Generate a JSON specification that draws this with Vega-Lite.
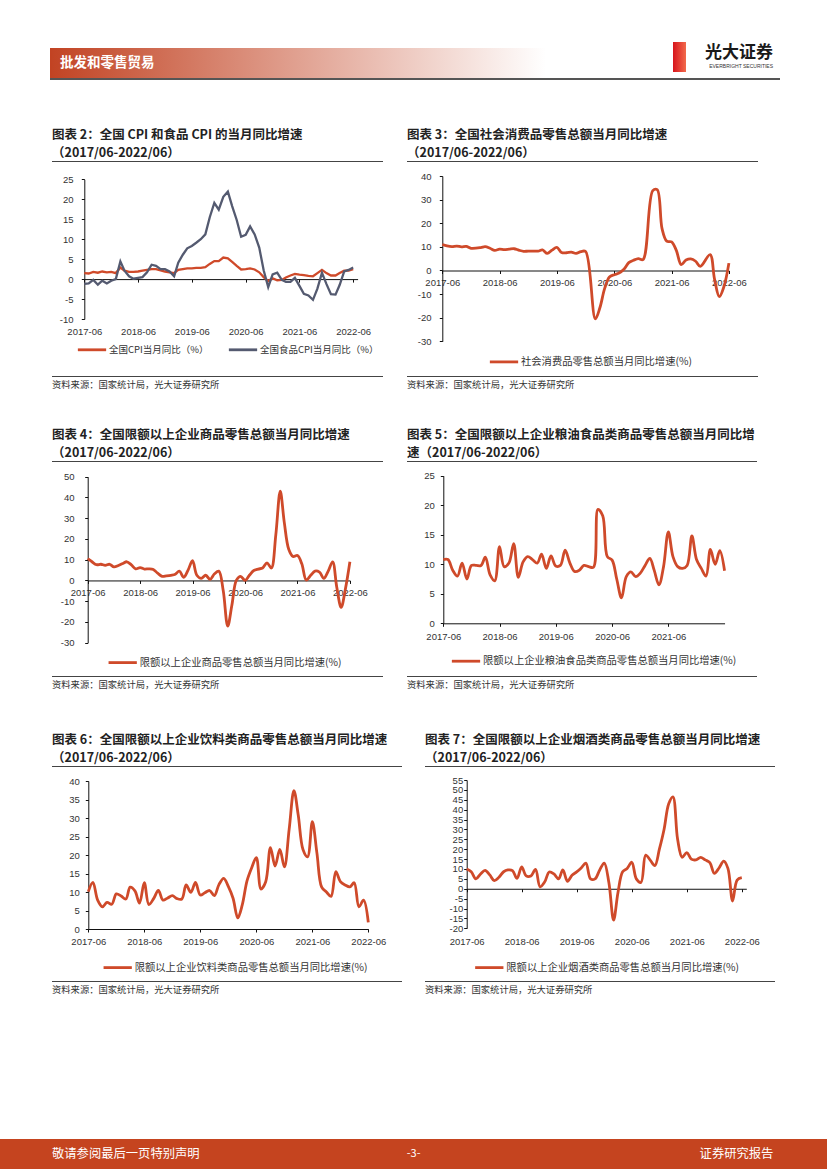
{
  "$schema": "https://vega.github.io/schema/vega-lite/v6.json",
  "background": "white",
  "padding": 0,
  "autosize": {"type": "pad"},
  "columns": 7,
  "align": "none",
  "bounds": "flush",
  "spacing": 0,
  "resolve": {"scale": {"x": "independent", "y": "independent", "color": "independent"}, "legend": {"color": "independent"}, "axis": {"x": "independent", "y": "independent"}},
  "concat": [
    {"width": 50, "height": 42, "data": {"values": []}, "mark": "point"},
    {"width": 2, "height": 42, "data": {"values": []}, "mark": "point"},
    {"width": 355, "height": 42, "data": {"values": []}, "mark": "point"},
    {"width": 18, "height": 42, "data": {"values": []}, "mark": "point"},
    {"width": 248, "height": 42, "data": {"values": []}, "mark": "point"},
    {"width": 13, "height": 42, "data": {"values": []}, "mark": "point"},
    {"width": 141, "height": 42, "data": {"values": []}, "mark": "point"},

    {"width": 50, "height": 6, "data": {"values": []}, "mark": "point"},
    {"width": 2, "height": 6, "data": {"values": []}, "mark": "point"},
    {"width": 355, "height": 6, "data": {"values": []}, "mark": "point"},
    {"width": 18, "height": 6, "data": {"values": []}, "mark": "point"},
    {"width": 248, "height": 6, "data": {"values": []}, "mark": "point"},
    {"width": 13, "height": 6, "data": {"values": [{}]}, "mark": {"type": "rect", "color": {"gradient": "linear", "x1": 0, "y1": 0, "x2": 1, "y2": 0, "stops": [{"offset": 0, "color": "#d7141c"}, {"offset": 1, "color": "#f26a4c"}]}}},
    {"width": 141, "height": 6, "data": {"values": []}, "mark": "point"},

    {"width": 50, "height": 30, "data": {"values": []}, "mark": "point"},
    {"width": 2, "height": 30, "data": {"values": [{}]}, "mark": {"type": "rect", "color": "#c24323"}},
    {
      "width": 355, "height": 30,
      "data": {"values": [{}]},
      "layer": [
        {"mark": {"type": "rect", "color": {"gradient": "linear", "x1": 0, "y1": 0, "x2": 1, "y2": 0, "stops": [{"offset": 0, "color": "#c24424"}, {"offset": 1, "color": "#eecac1"}]}}},
        {"mark": {"type": "text", "text": "批发和零售贸易", "color": "white", "font": "Noto Sans CJK SC", "fontWeight": "bold", "fontSize": 13.5, "align": "left", "dx": -169.5}}
      ]
    },
    {"width": 18, "height": 30, "data": {"values": [{}]}, "mark": {"type": "rect", "color": {"gradient": "linear", "x1": 0, "y1": 0, "x2": 1, "y2": 0, "stops": [{"offset": 0, "color": "#eecac1"}, {"offset": 1, "color": "#f0d1c9"}]}}},
    {"width": 121, "height": 30, "data": {"values": [{}]}, "mark": {"type": "rect", "color": {"gradient": "linear", "x1": 0, "y1": 0, "x2": 1, "y2": 0, "stops": [{"offset": 0, "color": "#f0d1c9"}, {"offset": 1, "color": "#ffffff"}]}}},
    {"width": 13, "height": 24, "data": {"values": [{}]}, "mark": {"type": "rect", "color": {"gradient": "linear", "x1": 0, "y1": 0, "x2": 1, "y2": 0, "stops": [{"offset": 0, "color": "#d7141c"}, {"offset": 1, "color": "#f26a4c"}]}}},
    {"width": 141, "height": 30, "data": {"values": []}, "mark": "point"},

    {"width": 50, "height": 2, "data": {"values": []}, "mark": "point"},
    {"width": 2, "height": 2, "view": {"fill": "#555"}, "data": {"values": []}, "mark": "point"},
    {"width": 355, "height": 2, "view": {"fill": "#555"}, "data": {"values": []}, "mark": "point"},
    {"width": 18, "height": 2, "view": {"fill": "#555"}, "data": {"values": []}, "mark": "point"},
    {"width": 248, "height": 2, "view": {"fill": "#555"}, "data": {"values": []}, "mark": "point"},
    {"width": 13, "height": 2, "view": {"fill": "#555"}, "data": {"values": []}, "mark": "point"},
    {"width": 94, "height": 2, "view": {"fill": "#555"}, "data": {"values": []}, "mark": "point",
     "title": {"text": "光大证券", "subtitle": "EVERBRIGHT SECURITIES", "anchor": "end", "orient": "top", "fontSize": 17, "fontWeight": "bold", "color": "#1a1a1a", "subtitleFont": "Liberation Sans", "subtitleFontSize": 5, "subtitleColor": "#333", "subtitlePadding": 2, "offset": 8, "dx": -7}},

    {"width": 50, "height": 81, "data": {"values": []}, "mark": "point"},
    {"width": 2, "height": 81, "data": {"values": []}, "mark": "point"},
    {"width": 355, "height": 81, "data": {"values": []}, "mark": "point"},
    {"width": 18, "height": 81, "data": {"values": []}, "mark": "point"},
    {"width": 248, "height": 81, "data": {"values": []}, "mark": "point"},
    {"width": 13, "height": 81, "data": {"values": []}, "mark": "point"},
    {"width": 141, "height": 81, "data": {"values": []}, "mark": "point"},

    {"width": 50, "height": 1, "data": {"values": []}, "mark": "point"},
    {"width": 2, "height": 1, "data": {"values": []}, "mark": "point"},
    {"width": 331, "height": 1, "view": {"fill": "#444"}, "data": {"values": []}, "mark": "point",
     "title": {"text": ["图表 2：全国 CPI 和食品 CPI 的当月同比增速", "（2017/06-2022/06）"]}},
    {"width": 18, "height": 1, "view": {"fill": "#444"}, "data": {"values": []}, "mark": "point",
     "title": {"text": ["图表 3：全国社会消费品零售总额当月同比增速", "（2017/06-2022/06）"]}},
    {"width": 248, "height": 1, "view": {"fill": "#444"}, "data": {"values": []}, "mark": "point"},
    {"width": 13, "height": 1, "view": {"fill": "#444"}, "data": {"values": []}, "mark": "point"},
    {"width": 72, "height": 1, "view": {"fill": "#444"}, "data": {"values": []}, "mark": "point"},

    {"width": 50, "height": 214, "data": {"values": []}, "mark": "point"},
    {"width": 2, "height": 214, "data": {"values": []}, "mark": "point"},
    {
      "width": 331, "height": 214,
      "data": {"values": [
        {"m":"2017-06","cpi":1.5,"food":-1.2},{"m":"2017-07","cpi":1.4,"food":-1.1},{"m":"2017-08","cpi":1.8,"food":-0.2},{"m":"2017-09","cpi":1.6,"food":-1.4},{"m":"2017-10","cpi":1.9,"food":-0.4},{"m":"2017-11","cpi":1.7,"food":-1.1},{"m":"2017-12","cpi":1.8,"food":-0.4},
        {"m":"2018-01","cpi":1.5,"food":0.0},{"m":"2018-02","cpi":2.9,"food":4.4},{"m":"2018-03","cpi":2.1,"food":2.1},{"m":"2018-04","cpi":1.8,"food":0.7},{"m":"2018-05","cpi":1.8,"food":0.1},{"m":"2018-06","cpi":1.9,"food":0.3},{"m":"2018-07","cpi":2.1,"food":0.5},{"m":"2018-08","cpi":2.3,"food":1.7},{"m":"2018-09","cpi":2.5,"food":3.6},{"m":"2018-10","cpi":2.5,"food":3.3},{"m":"2018-11","cpi":2.2,"food":2.5},{"m":"2018-12","cpi":1.9,"food":2.5},
        {"m":"2019-01","cpi":1.7,"food":1.9},{"m":"2019-02","cpi":1.5,"food":0.7},{"m":"2019-03","cpi":2.3,"food":4.1},{"m":"2019-04","cpi":2.5,"food":6.1},{"m":"2019-05","cpi":2.7,"food":7.7},{"m":"2019-06","cpi":2.7,"food":8.3},{"m":"2019-07","cpi":2.8,"food":9.1},{"m":"2019-08","cpi":2.8,"food":10.0},{"m":"2019-09","cpi":3.0,"food":11.2},{"m":"2019-10","cpi":3.8,"food":15.5},{"m":"2019-11","cpi":4.5,"food":19.1},{"m":"2019-12","cpi":4.5,"food":17.4},
        {"m":"2020-01","cpi":5.4,"food":20.6},{"m":"2020-02","cpi":5.2,"food":21.9},{"m":"2020-03","cpi":4.3,"food":18.3},{"m":"2020-04","cpi":3.3,"food":14.8},{"m":"2020-05","cpi":2.4,"food":10.6},{"m":"2020-06","cpi":2.5,"food":11.1},{"m":"2020-07","cpi":2.7,"food":13.2},{"m":"2020-08","cpi":2.4,"food":11.2},{"m":"2020-09","cpi":1.7,"food":7.9},{"m":"2020-10","cpi":0.5,"food":2.2},{"m":"2020-11","cpi":-0.5,"food":-2.0},{"m":"2020-12","cpi":0.2,"food":1.2},
        {"m":"2021-01","cpi":-0.3,"food":1.6},{"m":"2021-02","cpi":-0.2,"food":-0.2},{"m":"2021-03","cpi":0.4,"food":-0.7},{"m":"2021-04","cpi":0.9,"food":-0.7},{"m":"2021-05","cpi":1.3,"food":0.3},{"m":"2021-06","cpi":1.1,"food":-1.7},{"m":"2021-07","cpi":1.0,"food":-3.7},{"m":"2021-08","cpi":0.8,"food":-4.1},{"m":"2021-09","cpi":0.7,"food":-5.2},{"m":"2021-10","cpi":1.5,"food":-2.4},{"m":"2021-11","cpi":2.3,"food":1.6},{"m":"2021-12","cpi":1.5,"food":-1.2},
        {"m":"2022-01","cpi":0.9,"food":-3.8},{"m":"2022-02","cpi":0.9,"food":-3.9},{"m":"2022-03","cpi":1.5,"food":-1.5},{"m":"2022-04","cpi":2.1,"food":1.9},{"m":"2022-05","cpi":2.1,"food":2.3},{"m":"2022-06","cpi":2.5,"food":2.9}
      ], "format": {"parse": {"m": "date:'%Y-%m'"}}},
      "transform": [{"fold": ["cpi", "food"], "as": ["s", "v"]}],
      "mark": {"type": "line", "interpolate": "linear", "strokeWidth": 2.3},
      "encoding": {
        "x": {"field": "m", "type": "temporal",
          "scale": {"domain": [{"year": 2017, "month": 6, "date": 1}, {"year": 2022, "month": 7, "date": 1}], "range": [32.3, 305.6], "nice": false},
          "axis": {"title": null, "format": "%Y-%m", "values": [{"year": 2017, "month": 6}, {"year": 2018, "month": 6}, {"year": 2019, "month": 6}, {"year": 2020, "month": 6}, {"year": 2021, "month": 6}, {"year": 2022, "month": 6}], "offset": -96.9, "labelPadding": 44.6}},
        "y": {"field": "v", "type": "quantitative",
          "scale": {"domain": [-10, 25], "range": [157, 17.3], "nice": false, "zero": false},
          "axis": {"title": null, "values": [-10, -5, 0, 5, 10, 15, 20, 25], "offset": -32.3, "labelPadding": 8.3, "labelExpr": "'' + datum.value"}},
        "color": {"field": "s", "type": "nominal",
          "scale": {"domain": ["cpi", "food"], "range": ["#cf4a2a", "#545a70"]},
          "legend": {"title": null, "legendX": 24, "legendY": 171.6, "labelFontSize": 9.5, "columnPadding": 14, "labelExpr": "datum.value == 'cpi' ? '全国CPI当月同比（%）' : '全国食品CPI当月同比（%）'"}}
      }
    },
    {
      "width": 18, "height": 214,
      "data": {"values": [
        {"m":"2017-06","v":11.0},{"m":"2017-07","v":10.4},{"m":"2017-08","v":10.1},{"m":"2017-09","v":10.3},{"m":"2017-10","v":10.0},{"m":"2017-11","v":10.2},{"m":"2017-12","v":9.4},
        {"m":"2018-02","v":9.7},{"m":"2018-03","v":10.1},{"m":"2018-04","v":9.4},{"m":"2018-05","v":8.5},{"m":"2018-06","v":9.0},{"m":"2018-07","v":8.8},{"m":"2018-08","v":9.0},{"m":"2018-09","v":9.2},{"m":"2018-10","v":8.6},{"m":"2018-11","v":8.1},{"m":"2018-12","v":8.2},
        {"m":"2019-02","v":8.2},{"m":"2019-03","v":8.7},{"m":"2019-04","v":7.2},{"m":"2019-05","v":8.6},{"m":"2019-06","v":9.8},{"m":"2019-07","v":7.6},{"m":"2019-08","v":7.5},{"m":"2019-09","v":7.8},{"m":"2019-10","v":7.2},{"m":"2019-11","v":8.0},{"m":"2019-12","v":8.0},
        {"m":"2020-02","v":-20.5},{"m":"2020-03","v":-15.8},{"m":"2020-04","v":-7.5},{"m":"2020-05","v":-2.8},{"m":"2020-06","v":-1.8},{"m":"2020-07","v":-1.1},{"m":"2020-08","v":0.5},{"m":"2020-09","v":3.3},{"m":"2020-10","v":4.3},{"m":"2020-11","v":5.0},{"m":"2020-12","v":4.6},
        {"m":"2021-02","v":33.8},{"m":"2021-03","v":34.2},{"m":"2021-04","v":17.7},{"m":"2021-05","v":12.4},{"m":"2021-06","v":12.1},{"m":"2021-07","v":8.5},{"m":"2021-08","v":2.5},{"m":"2021-09","v":4.4},{"m":"2021-10","v":4.9},{"m":"2021-11","v":3.9},{"m":"2021-12","v":1.7},
        {"m":"2022-02","v":6.7},{"m":"2022-03","v":-3.5},{"m":"2022-04","v":-11.1},{"m":"2022-05","v":-6.7},{"m":"2022-06","v":3.1}
      ], "format": {"parse": {"m": "date:'%Y-%m'"}}},
      "mark": {"type": "line", "color": "#cf4a2a"},
      "encoding": {
        "x": {"field": "m", "type": "temporal",
          "scale": {"domain": [{"year": 2017, "month": 6, "date": 1}, {"year": 2022, "month": 6, "date": 1}], "range": [35.3, 321.9], "nice": false},
          "axis": {"title": null, "format": "%Y-%m", "values": [{"year": 2017, "month": 6}, {"year": 2018, "month": 6}, {"year": 2019, "month": 6}, {"year": 2020, "month": 6}, {"year": 2021, "month": 6}, {"year": 2022, "month": 6}], "offset": -105.5, "labelPadding": 4.2}},
        "y": {"field": "v", "type": "quantitative",
          "scale": {"domain": [-30, 40], "range": [179.3, 14], "nice": false, "zero": false},
          "axis": {"title": null, "values": [-30, -20, -10, 0, 10, 20, 30, 40], "offset": -35.3, "labelPadding": 8.3, "labelExpr": "'' + datum.value"}},
        "color": {"datum": "社会消费品零售总额当月同比增速(%)", "scale": {"range": ["#cf4a2a"]},
          "legend": {"title": null, "legendX": 81, "legendY": 183.9}}
      }
    },
    {"width": 248, "height": 214, "data": {"values": []}, "mark": "point"},
    {"width": 13, "height": 214, "data": {"values": []}, "mark": "point"},
    {"width": 141, "height": 214, "data": {"values": []}, "mark": "point"},

    {"width": 50, "height": 1, "data": {"values": []}, "mark": "point"},
    {"width": 2, "height": 1, "data": {"values": []}, "mark": "point"},
    {"width": 331, "height": 1, "view": {"fill": "#444"}, "data": {"values": []}, "mark": "point",
     "title": {"text": "资料来源：国家统计局，光大证券研究所", "orient": "bottom", "baseline": "top", "fontSize": 9.3, "fontWeight": "normal", "color": "#333", "offset": 4}},
    {"width": 18, "height": 1, "view": {"fill": "#444"}, "data": {"values": []}, "mark": "point",
     "title": {"text": "资料来源：国家统计局，光大证券研究所", "orient": "bottom", "baseline": "top", "fontSize": 9.3, "fontWeight": "normal", "color": "#333", "offset": 4}},
    {"width": 248, "height": 1, "view": {"fill": "#444"}, "data": {"values": []}, "mark": "point"},
    {"width": 13, "height": 1, "view": {"fill": "#444"}, "data": {"values": []}, "mark": "point"},
    {"width": 72, "height": 1, "view": {"fill": "#444"}, "data": {"values": []}, "mark": "point"},

    {"width": 50, "height": 84, "data": {"values": []}, "mark": "point"},
    {"width": 2, "height": 84, "data": {"values": []}, "mark": "point"},
    {"width": 355, "height": 84, "data": {"values": []}, "mark": "point"},
    {"width": 18, "height": 84, "data": {"values": []}, "mark": "point"},
    {"width": 248, "height": 84, "data": {"values": []}, "mark": "point"},
    {"width": 13, "height": 84, "data": {"values": []}, "mark": "point"},
    {"width": 141, "height": 84, "data": {"values": []}, "mark": "point"},

    {"width": 50, "height": 1, "data": {"values": []}, "mark": "point"},
    {"width": 2, "height": 1, "data": {"values": []}, "mark": "point"},
    {"width": 331, "height": 1, "view": {"fill": "#444"}, "data": {"values": []}, "mark": "point",
     "title": {"text": ["图表 4：全国限额以上企业商品零售总额当月同比增速", "（2017/06-2022/06）"]}},
    {"width": 18, "height": 1, "view": {"fill": "#444"}, "data": {"values": []}, "mark": "point",
     "title": {"text": ["图表 5：全国限额以上企业粮油食品类商品零售总额当月同比增", "速（2017/06-2022/06）"]}},
    {"width": 248, "height": 1, "view": {"fill": "#444"}, "data": {"values": []}, "mark": "point"},
    {"width": 13, "height": 1, "view": {"fill": "#444"}, "data": {"values": []}, "mark": "point"},
    {"width": 71, "height": 1, "view": {"fill": "#444"}, "data": {"values": []}, "mark": "point"},

    {"width": 50, "height": 214, "data": {"values": []}, "mark": "point"},
    {"width": 2, "height": 214, "data": {"values": []}, "mark": "point"},
    {
      "width": 331, "height": 214,
      "data": {"values": [
        {"m":"2017-06","v":10.5},{"m":"2017-07","v":9.0},{"m":"2017-08","v":7.6},{"m":"2017-09","v":7.8},{"m":"2017-10","v":7.3},{"m":"2017-11","v":7.8},{"m":"2017-12","v":6.5},
        {"m":"2018-01","v":7.2},{"m":"2018-02","v":8.2},{"m":"2018-03","v":9.0},{"m":"2018-04","v":7.5},{"m":"2018-05","v":5.6},{"m":"2018-06","v":6.2},{"m":"2018-07","v":5.5},{"m":"2018-08","v":5.6},{"m":"2018-09","v":5.3},{"m":"2018-10","v":3.5},{"m":"2018-11","v":2.0},{"m":"2018-12","v":2.2},
        {"m":"2019-01","v":2.5},{"m":"2019-02","v":3.0},{"m":"2019-03","v":4.5},{"m":"2019-04","v":1.5},{"m":"2019-05","v":5.0},{"m":"2019-06","v":9.5},{"m":"2019-07","v":2.5},{"m":"2019-08","v":1.0},{"m":"2019-09","v":2.5},{"m":"2019-10","v":0.5},{"m":"2019-11","v":3.2},{"m":"2019-12","v":4.5},
        {"m":"2020-01","v":-5.0},{"m":"2020-02","v":-22.0},{"m":"2020-03","v":-12.0},{"m":"2020-04","v":0.0},{"m":"2020-05","v":2.0},{"m":"2020-06","v":0.0},{"m":"2020-07","v":2.5},{"m":"2020-08","v":4.8},{"m":"2020-09","v":5.5},{"m":"2020-10","v":6.0},{"m":"2020-11","v":8.5},{"m":"2020-12","v":6.0},
        {"m":"2021-01","v":22.0},{"m":"2021-02","v":43.0},{"m":"2021-03","v":28.0},{"m":"2021-04","v":15.0},{"m":"2021-05","v":11.5},{"m":"2021-06","v":12.0},{"m":"2021-07","v":8.0},{"m":"2021-08","v":0.2},{"m":"2021-09","v":2.5},{"m":"2021-10","v":4.5},{"m":"2021-11","v":4.0},{"m":"2021-12","v":1.0},
        {"m":"2022-01","v":4.5},{"m":"2022-02","v":9.0},{"m":"2022-03","v":-3.0},{"m":"2022-04","v":-13.0},{"m":"2022-05","v":-4.0},{"m":"2022-06","v":9.0}
      ], "format": {"parse": {"m": "date:'%Y-%m'"}}},
      "mark": {"type": "line", "color": "#cf4a2a"},
      "encoding": {
        "x": {"field": "m", "type": "temporal",
          "scale": {"domain": [{"year": 2017, "month": 6, "date": 1}, {"year": 2022, "month": 6, "date": 1}], "range": [35.7, 297.9], "nice": false},
          "axis": {"title": null, "format": "%Y-%m", "values": [{"year": 2017, "month": 6}, {"year": 2018, "month": 6}, {"year": 2019, "month": 6}, {"year": 2020, "month": 6}, {"year": 2021, "month": 6}, {"year": 2022, "month": 6}], "offset": -95.55, "labelPadding": 3.85}},
        "y": {"field": "v", "type": "quantitative",
          "scale": {"domain": [-30, 50], "range": [180.7, 14.7], "nice": false, "zero": false},
          "axis": {"title": null, "values": [-30, -20, -10, 0, 10, 20, 30, 40, 50], "offset": -35.7, "labelPadding": 10.7, "labelExpr": "'' + datum.value"}},
        "color": {"datum": "限额以上企业商品零售总额当月同比增速(%)", "scale": {"range": ["#cf4a2a"]},
          "legend": {"title": null, "legendX": 54.7, "legendY": 184.6}}
      }
    },
    {
      "width": 18, "height": 214,
      "data": {"values": [
        {"m":"2017-06","v":10.8},{"m":"2017-07","v":10.8},{"m":"2017-08","v":9.0},{"m":"2017-09","v":8.0},{"m":"2017-10","v":10.2},{"m":"2017-11","v":7.5},{"m":"2017-12","v":9.8},
        {"m":"2018-01","v":9.8},{"m":"2018-02","v":9.8},{"m":"2018-03","v":11.2},{"m":"2018-04","v":8.2},{"m":"2018-05","v":7.2},{"m":"2018-06","v":13.0},{"m":"2018-07","v":9.6},{"m":"2018-08","v":10.2},{"m":"2018-09","v":13.5},{"m":"2018-10","v":7.8},{"m":"2018-11","v":10.4},{"m":"2018-12","v":11.3},
        {"m":"2019-01","v":10.8},{"m":"2019-02","v":10.2},{"m":"2019-03","v":11.7},{"m":"2019-04","v":9.3},{"m":"2019-05","v":11.4},{"m":"2019-06","v":9.7},{"m":"2019-07","v":9.8},{"m":"2019-08","v":12.4},{"m":"2019-09","v":10.2},{"m":"2019-10","v":8.8},{"m":"2019-11","v":9.0},{"m":"2019-12","v":9.8},
        {"m":"2020-01","v":9.6},{"m":"2020-02","v":9.5},{"m":"2020-03","v":19.3},{"m":"2020-04","v":18.2},{"m":"2020-05","v":11.3},{"m":"2020-06","v":10.7},{"m":"2020-07","v":7.5},{"m":"2020-08","v":4.3},{"m":"2020-09","v":7.9},{"m":"2020-10","v":8.7},{"m":"2020-11","v":7.9},{"m":"2020-12","v":8.5},
        {"m":"2021-01","v":9.8},{"m":"2021-02","v":11.0},{"m":"2021-03","v":9.0},{"m":"2021-04","v":6.5},{"m":"2021-05","v":9.6},{"m":"2021-06","v":15.5},{"m":"2021-07","v":11.3},{"m":"2021-08","v":9.6},{"m":"2021-09","v":9.3},{"m":"2021-10","v":9.8},{"m":"2021-11","v":14.8},{"m":"2021-12","v":10.8},
        {"m":"2022-01","v":9.3},{"m":"2022-02","v":8.0},{"m":"2022-03","v":12.5},{"m":"2022-04","v":10.0},{"m":"2022-05","v":12.3},{"m":"2022-06","v":8.9}
      ], "format": {"parse": {"m": "date:'%Y-%m'"}}},
      "mark": {"type": "line", "color": "#cf4a2a"},
      "encoding": {
        "x": {"field": "m", "type": "temporal",
          "scale": {"domain": [{"year": 2017, "month": 6, "date": 1}, {"year": 2022, "month": 6, "date": 1}], "range": [36.3, 317.55], "nice": false},
          "axis": {"title": null, "format": "%Y-%m", "values": [{"year": 2017, "month": 6}, {"year": 2018, "month": 6}, {"year": 2019, "month": 6}, {"year": 2020, "month": 6}, {"year": 2021, "month": 6}], "offset": -52.7, "labelPadding": 4.7}},
        "y": {"field": "v", "type": "quantitative",
          "scale": {"domain": [0, 25], "range": [161.3, 13.7], "nice": false, "zero": false},
          "axis": {"title": null, "values": [0, 5, 10, 15, 20, 25], "offset": -36.3, "labelPadding": 6, "labelExpr": "'' + datum.value"}},
        "color": {"datum": "限额以上企业粮油食品类商品零售总额当月同比增速(%)", "scale": {"range": ["#cf4a2a"]},
          "legend": {"title": null, "legendX": 43, "legendY": 183.2}}
      }
    },
    {"width": 248, "height": 214, "data": {"values": []}, "mark": "point"},
    {"width": 13, "height": 214, "data": {"values": []}, "mark": "point"},
    {"width": 141, "height": 214, "data": {"values": []}, "mark": "point"},

    {"width": 50, "height": 1, "data": {"values": []}, "mark": "point"},
    {"width": 2, "height": 1, "data": {"values": []}, "mark": "point"},
    {"width": 331, "height": 1, "view": {"fill": "#444"}, "data": {"values": []}, "mark": "point",
     "title": {"text": "资料来源：国家统计局，光大证券研究所", "orient": "bottom", "baseline": "top", "fontSize": 9.3, "fontWeight": "normal", "color": "#333", "offset": 4}},
    {"width": 18, "height": 1, "view": {"fill": "#444"}, "data": {"values": []}, "mark": "point",
     "title": {"text": "资料来源：国家统计局，光大证券研究所", "orient": "bottom", "baseline": "top", "fontSize": 9.3, "fontWeight": "normal", "color": "#333", "offset": 4}},
    {"width": 248, "height": 1, "view": {"fill": "#444"}, "data": {"values": []}, "mark": "point"},
    {"width": 13, "height": 1, "view": {"fill": "#444"}, "data": {"values": []}, "mark": "point"},
    {"width": 71, "height": 1, "view": {"fill": "#444"}, "data": {"values": []}, "mark": "point"},

    {"width": 50, "height": 89, "data": {"values": []}, "mark": "point"},
    {"width": 2, "height": 89, "data": {"values": []}, "mark": "point"},
    {"width": 355, "height": 89, "data": {"values": []}, "mark": "point"},
    {"width": 18, "height": 89, "data": {"values": []}, "mark": "point"},
    {"width": 248, "height": 89, "data": {"values": []}, "mark": "point"},
    {"width": 13, "height": 89, "data": {"values": []}, "mark": "point"},
    {"width": 141, "height": 89, "data": {"values": []}, "mark": "point"},

    {"width": 50, "height": 1, "data": {"values": []}, "mark": "point"},
    {"width": 2, "height": 1, "data": {"values": []}, "mark": "point"},
    {"width": 350, "height": 1, "view": {"fill": "#444"}, "data": {"values": []}, "mark": "point",
     "title": {"text": ["图表 6：全国限额以上企业饮料类商品零售总额当月同比增速", "（2017/06-2022/06）"]}},
    {"width": 18, "height": 1, "data": {"values": []}, "mark": "point"},
    {"width": 248, "height": 1, "view": {"fill": "#444"}, "data": {"values": []}, "mark": "point",
     "title": {"text": ["图表 7：全国限额以上企业烟酒类商品零售总额当月同比增速", "（2017/06-2022/06）"]}},
    {"width": 13, "height": 1, "view": {"fill": "#444"}, "data": {"values": []}, "mark": "point"},
    {"width": 89, "height": 1, "view": {"fill": "#444"}, "data": {"values": []}, "mark": "point"},

    {"width": 50, "height": 214, "data": {"values": []}, "mark": "point"},
    {"width": 2, "height": 214, "data": {"values": []}, "mark": "point"},
    {
      "width": 350, "height": 214,
      "data": {"values": [
        {"m":"2017-06","v":10.1},{"m":"2017-07","v":12.6},{"m":"2017-08","v":7.8},{"m":"2017-09","v":6.0},{"m":"2017-10","v":7.2},{"m":"2017-11","v":6.7},{"m":"2017-12","v":9.5},
        {"m":"2018-01","v":8.9},{"m":"2018-02","v":8.1},{"m":"2018-03","v":11.3},{"m":"2018-04","v":10.3},{"m":"2018-05","v":7.0},{"m":"2018-06","v":12.5},{"m":"2018-07","v":6.6},{"m":"2018-08","v":8.2},{"m":"2018-09","v":10.4},{"m":"2018-10","v":7.8},{"m":"2018-11","v":8.4},{"m":"2018-12","v":9.0},
        {"m":"2019-01","v":8.2},{"m":"2019-02","v":8.1},{"m":"2019-03","v":11.9},{"m":"2019-04","v":9.9},{"m":"2019-05","v":12.6},{"m":"2019-06","v":9.2},{"m":"2019-07","v":9.8},{"m":"2019-08","v":10.4},{"m":"2019-09","v":9.0},{"m":"2019-10","v":12.0},{"m":"2019-11","v":13.7},{"m":"2019-12","v":11.5},
        {"m":"2020-01","v":8.3},{"m":"2020-02","v":3.0},{"m":"2020-03","v":6.5},{"m":"2020-04","v":13.0},{"m":"2020-05","v":16.5},{"m":"2020-06","v":19.3},{"m":"2020-07","v":10.8},{"m":"2020-08","v":12.8},{"m":"2020-09","v":22.0},{"m":"2020-10","v":17.0},{"m":"2020-11","v":21.5},{"m":"2020-12","v":16.8},
        {"m":"2021-01","v":27.0},{"m":"2021-02","v":37.4},{"m":"2021-03","v":30.8},{"m":"2021-04","v":21.5},{"m":"2021-05","v":19.5},{"m":"2021-06","v":29.0},{"m":"2021-07","v":20.5},{"m":"2021-08","v":11.3},{"m":"2021-09","v":10.0},{"m":"2021-10","v":8.8},{"m":"2021-11","v":15.5},{"m":"2021-12","v":12.8},
        {"m":"2022-01","v":11.9},{"m":"2022-02","v":11.4},{"m":"2022-03","v":12.5},{"m":"2022-04","v":6.0},{"m":"2022-05","v":7.8},{"m":"2022-06","v":1.8}
      ], "format": {"parse": {"m": "date:'%Y-%m'"}}},
      "mark": {"type": "line", "color": "#cf4a2a"},
      "encoding": {
        "x": {"field": "m", "type": "temporal",
          "scale": {"domain": [{"year": 2017, "month": 6, "date": 1}, {"year": 2022, "month": 6, "date": 1}], "range": [36.3, 316.3], "nice": false},
          "axis": {"title": null, "format": "%Y-%m", "values": [{"year": 2017, "month": 6}, {"year": 2018, "month": 6}, {"year": 2019, "month": 6}, {"year": 2020, "month": 6}, {"year": 2021, "month": 6}, {"year": 2022, "month": 6}], "offset": -52, "labelPadding": 4.7}},
        "y": {"field": "v", "type": "quantitative",
          "scale": {"domain": [0, 40], "range": [162, 14], "nice": false, "zero": false},
          "axis": {"title": null, "values": [0, 5, 10, 15, 20, 25, 30, 35, 40], "offset": -36.3, "labelPadding": 6, "labelExpr": "'' + datum.value"}},
        "color": {"datum": "限额以上企业饮料类商品零售总额当月同比增速(%)", "scale": {"range": ["#cf4a2a"]},
          "legend": {"title": null, "legendX": 49.7, "legendY": 184.6}}
      }
    },
    {"width": 18, "height": 214, "data": {"values": []}, "mark": "point"},
    {
      "width": 248, "height": 214,
      "data": {"values": [
        {"m":"2017-06","v":10.0},{"m":"2017-07","v":8.6},{"m":"2017-08","v":5.0},{"m":"2017-09","v":7.5},{"m":"2017-10","v":9.3},{"m":"2017-11","v":7.0},{"m":"2017-12","v":4.1},
        {"m":"2018-01","v":5.8},{"m":"2018-02","v":8.6},{"m":"2018-03","v":9.5},{"m":"2018-04","v":9.2},{"m":"2018-05","v":5.2},{"m":"2018-06","v":11.0},{"m":"2018-07","v":6.5},{"m":"2018-08","v":6.5},{"m":"2018-09","v":9.8},{"m":"2018-10","v":1.0},{"m":"2018-11","v":3.5},{"m":"2018-12","v":8.5},
        {"m":"2019-01","v":7.5},{"m":"2019-02","v":5.0},{"m":"2019-03","v":9.5},{"m":"2019-04","v":3.8},{"m":"2019-05","v":6.8},{"m":"2019-06","v":8.5},{"m":"2019-07","v":10.5},{"m":"2019-08","v":13.0},{"m":"2019-09","v":5.0},{"m":"2019-10","v":5.0},{"m":"2019-11","v":9.5},{"m":"2019-12","v":13.0},
        {"m":"2020-01","v":3.0},{"m":"2020-02","v":-15.8},{"m":"2020-03","v":-2.0},{"m":"2020-04","v":8.6},{"m":"2020-05","v":10.3},{"m":"2020-06","v":13.4},{"m":"2020-07","v":5.0},{"m":"2020-08","v":3.2},{"m":"2020-09","v":17.0},{"m":"2020-10","v":14.5},{"m":"2020-11","v":11.7},{"m":"2020-12","v":20.0},
        {"m":"2021-01","v":30.0},{"m":"2021-02","v":43.0},{"m":"2021-03","v":46.5},{"m":"2021-04","v":25.0},{"m":"2021-05","v":15.9},{"m":"2021-06","v":18.3},{"m":"2021-07","v":15.0},{"m":"2021-08","v":14.6},{"m":"2021-09","v":15.9},{"m":"2021-10","v":14.6},{"m":"2021-11","v":13.2},{"m":"2021-12","v":7.8},
        {"m":"2022-01","v":10.5},{"m":"2022-02","v":14.0},{"m":"2022-03","v":10.3},{"m":"2022-04","v":-6.2},{"m":"2022-05","v":4.4},{"m":"2022-06","v":5.6}
      ], "format": {"parse": {"m": "date:'%Y-%m'"}}},
      "mark": {"type": "line", "color": "#cf4a2a"},
      "encoding": {
        "x": {"field": "m", "type": "temporal",
          "scale": {"domain": [{"year": 2017, "month": 6, "date": 1}, {"year": 2022, "month": 7, "date": 1}], "range": [41.7, 321.3], "nice": false},
          "axis": {"title": null, "format": "%Y-%m", "values": [{"year": 2017, "month": 6}, {"year": 2018, "month": 6}, {"year": 2019, "month": 6}, {"year": 2020, "month": 6}, {"year": 2021, "month": 6}, {"year": 2022, "month": 6}], "offset": -92.25, "labelPadding": 44.25}},
        "y": {"field": "v", "type": "quantitative",
          "scale": {"domain": [-20, 55], "range": [161.3, 13], "nice": false, "zero": false},
          "axis": {"title": null, "values": [-20, -15, -10, -5, 0, 5, 10, 15, 20, 25, 30, 35, 40, 45, 50, 55], "offset": -41.7, "labelPadding": 1, "labelExpr": "'' + datum.value"}},
        "color": {"datum": "限额以上企业烟酒类商品零售总额当月同比增速(%)", "scale": {"range": ["#cf4a2a"]},
          "legend": {"title": null, "legendX": 48.3, "legendY": 184.6}}
      }
    },
    {"width": 13, "height": 214, "data": {"values": []}, "mark": "point"},
    {"width": 141, "height": 214, "data": {"values": []}, "mark": "point"},

    {"width": 50, "height": 1, "data": {"values": []}, "mark": "point"},
    {"width": 2, "height": 1, "data": {"values": []}, "mark": "point"},
    {"width": 350, "height": 1, "view": {"fill": "#444"}, "data": {"values": []}, "mark": "point",
     "title": {"text": "资料来源：国家统计局，光大证券研究所", "orient": "bottom", "baseline": "top", "fontSize": 9.3, "fontWeight": "normal", "color": "#333", "offset": 4}},
    {"width": 18, "height": 1, "data": {"values": []}, "mark": "point"},
    {"width": 248, "height": 1, "view": {"fill": "#444"}, "data": {"values": []}, "mark": "point",
     "title": {"text": "资料来源：国家统计局，光大证券研究所", "orient": "bottom", "baseline": "top", "fontSize": 9.3, "fontWeight": "normal", "color": "#333", "offset": 4}},
    {"width": 13, "height": 1, "view": {"fill": "#444"}, "data": {"values": []}, "mark": "point"},
    {"width": 89, "height": 1, "view": {"fill": "#444"}, "data": {"values": []}, "mark": "point"},

    {"width": 50, "height": 157, "data": {"values": []}, "mark": "point"},
    {"width": 2, "height": 157, "data": {"values": []}, "mark": "point"},
    {"width": 355, "height": 157, "data": {"values": []}, "mark": "point"},
    {"width": 18, "height": 157, "data": {"values": []}, "mark": "point"},
    {"width": 248, "height": 157, "data": {"values": []}, "mark": "point"},
    {"width": 13, "height": 157, "data": {"values": []}, "mark": "point"},
    {"width": 141, "height": 157, "data": {"values": []}, "mark": "point"},

    {"width": 50, "height": 30, "data": {"values": [{}]}, "mark": {"type": "rect", "color": "#c5441f"}},
    {"width": 2, "height": 30, "data": {"values": [{}]}, "mark": {"type": "rect", "color": "#c5441f"}},
    {"width": 355, "height": 30, "data": {"values": [{}]},
     "layer": [
       {"mark": {"type": "rect", "color": "#c5441f"}},
       {"mark": {"type": "text", "text": "敬请参阅最后一页特别声明", "color": "white", "font": "Noto Sans CJK SC", "fontSize": 12.3, "align": "left", "dx": -177.5}}
     ]},
    {"width": 18, "height": 30, "data": {"values": [{}]},
     "layer": [
       {"mark": {"type": "rect", "color": "#c5441f"}},
       {"mark": {"type": "text", "text": "-3-", "color": "white", "font": "Noto Sans CJK SC", "fontSize": 11, "dx": -2.4}}
     ]},
    {"width": 248, "height": 30, "data": {"values": [{}]}, "mark": {"type": "rect", "color": "#c5441f"}},
    {"width": 13, "height": 30, "data": {"values": [{}]}, "mark": {"type": "rect", "color": "#c5441f"}},
    {"width": 141, "height": 30, "data": {"values": [{}]},
     "layer": [
       {"mark": {"type": "rect", "color": "#c5441f"}},
       {"mark": {"type": "text", "text": "证券研究报告", "color": "white", "font": "Noto Sans CJK SC", "fontSize": 12.3, "dx": -20}}
     ]}
  ],
  "config": {
    "view": {"stroke": null},
    "font": "Noto Sans CJK SC",
    "axis": {"labelFont": "Liberation Sans", "labelFontSize": 9.5, "labelColor": "#333", "domainColor": "#111", "domainWidth": 1, "tickColor": "#111", "tickSize": 3, "grid": false, "labelFlush": false, "labelOverlap": false, "labelBound": false},
    "legend": {"orient": "none", "direction": "horizontal", "symbolType": "stroke", "symbolSize": 800, "symbolStrokeWidth": 3.2, "labelFont": "Noto Sans CJK SC", "labelFontSize": 10.3, "labelColor": "#333", "labelOffset": 1, "labelLimit": 0, "padding": 0},
    "title": {"font": "Noto Sans CJK SC", "fontSize": 12.5, "fontWeight": "bold", "color": "#222", "anchor": "start", "frame": "group", "baseline": "bottom", "lineHeight": 18, "offset": 2, "limit": 2000},
    "line": {"strokeWidth": 2.8, "interpolate": "catmull-rom"}
  }
}
